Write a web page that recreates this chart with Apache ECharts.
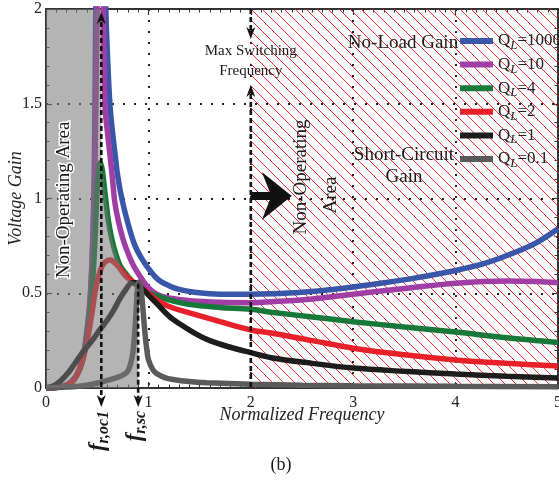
<!DOCTYPE html>
<html><head><meta charset="utf-8">
<script src="https://cdn.jsdelivr.net/npm/echarts@6/dist/echarts.min.js"></script>
<style>html,body{margin:0;padding:0;background:#fff}#c{width:559px;height:487px}</style>
</head><body><div id="c"></div>
<script>
const FONT = "'Liberation Serif','Times New Roman',serif";

const seriesNames  = ['QL=1000','QL=10','QL=4','QL=2','QL=1','QL=0.1'];
const seriesColors = ['#3a56a8','#a03ea6','#16793a','#e8202a','#1c1c1c','#5a5a5a'];

const f1000 = [0,0.1,0.2,0.25,0.3,0.35,0.38,0.41,0.43,0.45,0.46,0.47,0.475,0.48,0.49,0.54,0.575,0.585,0.6,0.625,0.65,0.675,0.7,0.74,0.8,0.87,0.95,1.03,1.1,1.2,1.3,1.45,1.6,1.8,2.0,2.2,2.5,2.8,3.0,3.3,3.6,4.0,4.3,4.6,4.8,5.0];
const g1000 = [0,0.003,0.015,0.035,0.07,0.14,0.22,0.35,0.46,0.68,0.85,1.1,1.3,1.6,2.3,6,2.3,1.98,1.76,1.49,1.35,1.23,1.12,1.0,0.87,0.75,0.67,0.61,0.57,0.54,0.52,0.505,0.498,0.495,0.495,0.497,0.505,0.52,0.533,0.555,0.58,0.62,0.66,0.72,0.77,0.84];

const f10 = [0,0.1,0.2,0.25,0.3,0.35,0.38,0.41,0.43,0.45,0.47,0.48,0.49,0.5,0.51,0.535,0.555,0.56,0.576,0.6,0.625,0.65,0.675,0.72,0.77,0.85,0.93,1.0,1.08,1.2,1.41,1.7,2.0,2.2,2.6,3.0,3.5,4.0,4.5,4.8,5.0];
const g10 = [0,0.003,0.015,0.034,0.068,0.135,0.21,0.34,0.46,0.66,1.0,1.25,1.6,2.0,2.6,4,2.3,2.0,1.49,1.35,1.23,1.1,0.97,0.85,0.755,0.65,0.58,0.53,0.495,0.475,0.46,0.452,0.45,0.455,0.47,0.495,0.525,0.553,0.565,0.562,0.555];

const f4 = [0,0.1,0.2,0.25,0.3,0.35,0.4,0.43,0.46,0.48,0.495,0.51,0.53,0.55,0.576,0.61,0.645,0.675,0.72,0.77,0.83,0.9,1.0,1.08,1.2,1.41,1.7,2.0,2.2,2.6,3.0,3.5,4.0,4.5,5.0];
const g4 = [0,0.003,0.014,0.032,0.065,0.13,0.27,0.4,0.6,0.8,1.0,1.12,1.19,1.15,1.03,0.88,0.78,0.72,0.65,0.61,0.57,0.535,0.5,0.487,0.465,0.44,0.425,0.415,0.40,0.375,0.35,0.322,0.295,0.265,0.24];

const f2 = [0,0.1,0.2,0.27,0.32,0.36,0.4,0.45,0.48,0.5,0.53,0.56,0.6,0.625,0.65,0.7,0.75,0.79,0.85,0.9,1.0,1.08,1.2,1.41,1.7,2.0,2.2,2.6,3.0,3.5,4.0,4.5,5.0];
const g2 = [0,0.003,0.013,0.04,0.09,0.15,0.24,0.4,0.51,0.56,0.62,0.655,0.672,0.675,0.67,0.645,0.61,0.585,0.56,0.545,0.5,0.465,0.43,0.395,0.35,0.306,0.29,0.25,0.21,0.175,0.148,0.13,0.116];

const f1 = [0,0.1,0.2,0.27,0.36,0.45,0.53,0.6,0.66,0.72,0.78,0.84,0.88,0.92,1.0,1.08,1.2,1.3,1.45,1.6,1.8,2.0,2.2,2.6,3.0,3.5,4.0,4.5,5.0];
const g1 = [0,0.02,0.07,0.12,0.19,0.25,0.31,0.36,0.41,0.47,0.52,0.555,0.555,0.535,0.49,0.447,0.38,0.34,0.29,0.25,0.215,0.187,0.16,0.13,0.105,0.088,0.074,0.062,0.053];

const f01 = [0,0.2,0.4,0.53,0.65,0.75,0.8,0.84,0.86,0.875,0.89,0.9,0.91,0.925,0.94,0.955,0.97,0.985,1.0,1.04,1.08,1.16,1.24,1.4,1.57,2.0,2.5,3.0,4.0,5.0];
const g01 = [0,0.005,0.015,0.03,0.048,0.068,0.09,0.16,0.25,0.36,0.5,0.55,0.56,0.53,0.46,0.36,0.27,0.2,0.15,0.1,0.077,0.055,0.045,0.034,0.028,0.02,0.015,0.012,0.009,0.007];

// boundary of the grey (non-operating) area on the left
const grayF = [0,0.54,0.54,0.58,0.62,0.66,0.7,0.75,0.82,0.9,0.9];
const grayG = [2,2,1.19,1.02,0.85,0.75,0.68,0.62,0.57,0.55,0];

const xTicks = [0,1,2,3,4,5];
const yTicks = [0,0.5,1,1.5,2];
const fMaxSw = 2, fRoc = 0.54, fRsc = 0.9;

const curvesF = [f1000,f10,f4,f2,f1,f01];
const curvesG = [g1000,g10,g4,g2,g1,g01];
const zip = (a,b) => a.map((v,i)=>[v,b[i]]);

// hatch pattern
const tile = document.createElement('canvas');
const S = 11; tile.width = S; tile.height = S;
const tc = tile.getContext('2d');
tc.strokeStyle = 'rgba(235,40,40,0.95)'; tc.lineWidth = 1;
for (const c of [-S,0,S]) { tc.beginPath(); tc.moveTo(-1, -1 + c); tc.lineTo(S+1, S+1 + c); tc.stroke(); }

const axisCommon = (extra) => Object.assign({
  type:'value', axisLine:{show:true, onZero:false, lineStyle:{color:'#333', width:2}},
  axisTick:{show:true, inside:true, length:6, lineStyle:{color:'#333', width:1.2}},
  minorTick:{show:true, length:3.5, lineStyle:{color:'#333', width:1}},
}, extra);

const series = seriesNames.map((n,i)=>({
  name:n, type:'line', data: zip(curvesF[i], curvesG[i]), symbol:'none',
  smooth:0.35, z: 3 + i*0.01,
  lineStyle:{color:seriesColors[i], width:5.5}, itemStyle:{color:seriesColors[i]},
  silent:true
}));
series[0].markArea = { silent:true, itemStyle:{color:{image:tile, repeat:'repeat'}},
  data:[[{coord:[fMaxSw,0]},{coord:[5,2]}]] };
series.push({ name:'grayArea', type:'line', data: zip(grayF, grayG), symbol:'none', z:6, silent:true,
  lineStyle:{width:0}, areaStyle:{color:'rgba(118,118,118,0.55)', opacity:1} });

const option = {
  animation:false, backgroundColor:'#fff',
  grid:{left:46, right:1, top:9, bottom:99, outerBoundsMode:'none', containLabel:false},
  xAxis:[
    axisCommon({min:0, max:5, interval:1, position:'bottom',
      name:'Normalized Frequency', nameLocation:'middle', nameGap:18, nameMoveOverlap:false,
      nameTextStyle:{fontFamily:FONT, fontSize:18, fontStyle:'italic', color:'#222'},
      axisLabel:{fontFamily:FONT, fontSize:16, color:'#222', margin:7},
      minorTick:{show:true, splitNumber:10, length:3.5, lineStyle:{color:'#333', width:1}},
      splitLine:{show:true, lineStyle:{type:[2,9], color:'#222', width:2}}}),
    axisCommon({min:0, max:5, interval:1, position:'top',
      axisLabel:{show:false}, splitLine:{show:false},
      minorTick:{show:true, splitNumber:10, length:3.5, lineStyle:{color:'#333', width:1}}})
  ],
  yAxis:[
    axisCommon({min:0, max:2, interval:0.5, position:'left',
      name:'Voltage Gain', nameLocation:'middle', nameGap:21, nameMoveOverlap:false,
      nameTextStyle:{fontFamily:FONT, fontSize:18, fontStyle:'italic', color:'#222'},
      axisLabel:{fontFamily:FONT, fontSize:16, color:'#222', margin:4},
      minorTick:{show:true, splitNumber:5, length:3.5, lineStyle:{color:'#333', width:1}},
      splitLine:{show:true, lineStyle:{type:[2,9], color:'#222', width:2}}}),
    axisCommon({min:0, max:2, interval:0.5, position:'right',
      axisLabel:{show:false}, splitLine:{show:false},
      minorTick:{show:true, splitNumber:5, length:3.5, lineStyle:{color:'#333', width:1}}})
  ],
  legend:{ data:seriesNames, orient:'vertical', left:460, top:30, padding:0,
    itemWidth:33, itemHeight:6, itemGap:1.6, icon:'rect', selectedMode:false,
    formatter:(n)=>'Q{s|L}'+n.slice(2),
    textStyle:{fontFamily:FONT, fontSize:17, color:'#222', lineHeight:22,
      rich:{s:{fontFamily:FONT, fontSize:13, fontStyle:'italic', color:'#222', verticalAlign:'bottom', lineHeight:10}}}
  },
  series
};

const chart = echarts.init(document.getElementById('c'));
chart.setOption(option);

const P = (f,g) => chart.convertToPixel({xAxisIndex:0, yAxisIndex:0}, [f,g]);
const [, yTop] = P(0,2);
const [, y0] = P(0,0);
const xOc = P(fRoc,0)[0], xSc = P(fRsc,0)[0], xMs = P(fMaxSw,0)[0];
const ySc = P(fRsc,0.55)[1];
const dash = {stroke:'#111', lineWidth:2.6, lineDash:[5,3]};
const G = [];
const line = (x1,y1,x2,y2) => G.push({type:'line', z:100, silent:true, shape:{x1,y1,x2,y2}, style:dash});
const arrow = (x, tipY, dir) => { // dir: 1 down, -1 up
  const b = tipY - dir*11;
  G.push({type:'polygon', z:100, silent:true, shape:{points:[[x,tipY],[x-4.5,b-dir*1],[x,b+dir*2.5],[x+4.5,b-dir*1]]}, style:{fill:'#111'}});
};
// f_r,oc line
line(xOc, yTop+13, xOc, y0+10); arrow(xOc, yTop+3, -1); arrow(xOc, y0+19, 1);
// f_r,sc line
line(xSc, ySc, xSc, y0+10); arrow(xSc, y0+19, 1);
// max switching frequency line
line(xMs, yTop, xMs, yTop+22); arrow(xMs, yTop+30, 1);
line(xMs, yTop+85, xMs, y0); arrow(xMs, yTop+76, -1);

const txt = (text, x, y, opts) => G.push(Object.assign({type:'text', z:110, silent:true, x, y,
  style:Object.assign({text, x:0, y:0, fontFamily:FONT, fontSize:18, fill:'#1a1a1a', align:'center', verticalAlign:'middle'}, opts.style||{})}, opts.el||{}));

txt('Max Switching\nFrequency', xMs, yTop+52, {style:{fontSize:15, lineHeight:20}});
txt('No-Load Gain', 403, 43, {style:{fontSize:19}});
txt('Short-Circuit\nGain', 404, 166, {style:{fontSize:19, lineHeight:22}});
txt('Non-Operating Area', 64, 200, {el:{rotation:Math.PI/2}, style:{fontSize:19, stroke:'#fff', lineWidth:3}});
txt('Non-Operating', 301, 177, {el:{rotation:Math.PI/2}, style:{fontSize:19}});
txt('Area', 331, 195, {el:{rotation:Math.PI/2}, style:{fontSize:19}});
const rich = {f:{fontFamily:FONT, fontSize:23, fontStyle:'italic', fontWeight:'bold', fill:'#1a1a1a', lineHeight:28},
              s:{fontFamily:FONT, fontSize:16, fontStyle:'italic', fontWeight:'bold', fill:'#1a1a1a', verticalAlign:'bottom', lineHeight:14}};
txt('{f|f}{s|r,oc1}', xOc-3, y0+23, {el:{rotation:Math.PI/2}, style:{align:'right', rich}});
txt('{f|f}{s|r,sc}', xSc-3, y0+23, {el:{rotation:Math.PI/2}, style:{align:'right', rich}});
txt('(b)', 281, 465, {style:{fontSize:18}});

// big right arrow
const ax = xMs, ay = 196;
G.push({type:'polygon', z:100, silent:true, shape:{points:[[ax,ay-4],[ax+19,ay-4],[ax+11,ay-24],[ax+41,ay],[ax+11,ay+24],[ax+19,ay+4],[ax,ay+4]]}, style:{fill:'#111'}});

chart.setOption({graphic:G});
</script></body></html>
